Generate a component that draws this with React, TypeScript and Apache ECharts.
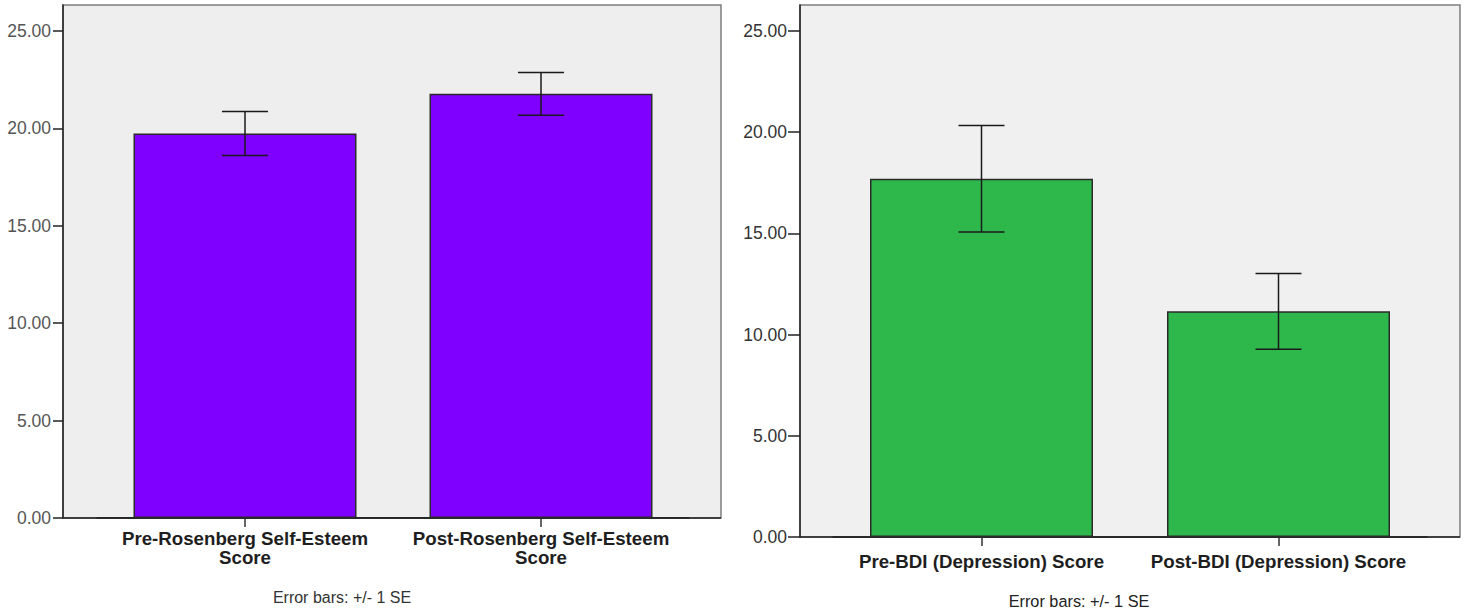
import React, { useEffect, useRef } from "react";
import * as echarts from "echarts";

const W = 1469;
const H = 613;

const leftCategories = ["Pre-Rosenberg Self-Esteem\nScore", "Post-Rosenberg Self-Esteem\nScore"];
const leftMeans = [19.74, 21.77];
const leftSE = [1.13, 1.1];

const rightCategories = ["Pre-BDI (Depression) Score", "Post-BDI (Depression) Score"];
const rightMeans = [17.7, 11.15];
const rightSE = [2.63, 1.87];

const yTicks = [0, 5, 10, 15, 20, 25];
const leftYMax = 26.33;
const rightYMax = 26.28;
const footnote = "Error bars: +/- 1 SE";

const FONT = "'Liberation Sans', Arial, sans-serif";

const errRender = (params: any, api: any) => {
  const x = api.value(0);
  const lo = api.coord([x, api.value(1)]);
  const hi = api.coord([x, api.value(2)]);
  const half = 23;
  const style = { stroke: "#1a1a1a", lineWidth: 1.5 };
  return {
    type: "group",
    children: [
      { type: "line", shape: { x1: hi[0], y1: hi[1], x2: lo[0], y2: lo[1] }, style },
      { type: "line", shape: { x1: hi[0] - half, y1: hi[1], x2: hi[0] + half, y2: hi[1] }, style },
      { type: "line", shape: { x1: lo[0] - half, y1: lo[1], x2: lo[0] + half, y2: lo[1] }, style },
    ],
  };
};

export default function App() {
  const ref = useRef<HTMLDivElement>(null);

  useEffect(() => {
    if (!ref.current) return;
    const chart = echarts.init(ref.current, undefined, { renderer: "svg" });

    const yAxisBase = (max: number, offset: number, color: string, margin: number, tickLen: number) => ({
      type: "value",
      min: 0,
      max,
      offset,
      splitLine: { show: false },
      axisLine: { show: true, lineStyle: { color: "#222", width: 1.5 } },
      axisTick: { show: true, length: tickLen, customValues: yTicks, lineStyle: { color: "#222", width: 1.5 } },
      axisLabel: {
        customValues: yTicks,
        formatter: (v: number) => v.toFixed(2),
        color,
        fontSize: 17.5,
        fontFamily: FONT,
        margin,
      },
    });

    const xAxisBase = (cats: string[], margin: number) => ({
      type: "category",
      data: cats,
      axisLine: { show: true, lineStyle: { color: "#222", width: 1.5 } },
      axisTick: { show: true, alignWithLabel: true, length: 9, lineStyle: { color: "#333", width: 1.5 } },
      axisLabel: {
        interval: 0,
        color: "#1e1e1e",
        fontSize: 18.7,
        fontWeight: "bold",
        lineHeight: 19,
        fontFamily: FONT,
        margin,
      },
    });

    const option: any = {
      animation: false,
      graphic: [
        {
          type: "rect",
          z: -10,
          shape: { x: 63, y: 5, width: 658, height: 513 },
          style: { fill: "#eeeeee", stroke: "#7d7d7d", lineWidth: 1.5 },
        },
        {
          type: "rect",
          z: -10,
          shape: { x: 800, y: 5, width: 660, height: 532 },
          style: { fill: "#f0f0f0", stroke: "#7d7d7d", lineWidth: 1.5 },
        },
        {
          type: "line",
          z: -9,
          shape: { x1: 63, y1: 518, x2: 721, y2: 518 },
          style: { stroke: "#222", lineWidth: 1.5 },
        },
        {
          type: "line",
          z: -9,
          shape: { x1: 800, y1: 537, x2: 1460, y2: 537 },
          style: { stroke: "#222", lineWidth: 1.5 },
        },
        {
          type: "text",
          x: 342,
          y: 597,
          style: { text: footnote, fill: "#333", font: `16px ${FONT}`, textAlign: "center", textVerticalAlign: "middle" },
        },
        {
          type: "text",
          x: 1079,
          y: 601,
          style: { text: footnote, fill: "#222", font: `16.3px ${FONT}`, textAlign: "center", textVerticalAlign: "middle" },
        },
      ],
      grid: [
        { left: 97, top: 5, width: 592, height: 513, show: false },
        { left: 833, top: 5, width: 594, height: 532, show: false },
      ],
      xAxis: [
        { ...xAxisBase(leftCategories, 11), gridIndex: 0 },
        { ...xAxisBase(rightCategories, 15), gridIndex: 1 },
      ],
      yAxis: [
        { ...yAxisBase(leftYMax, 34, "#555", 12, 10), gridIndex: 0 },
        { ...yAxisBase(rightYMax, 33, "#333", 13, 12), gridIndex: 1 },
      ],
      series: [
        {
          type: "bar",
          xAxisIndex: 0,
          yAxisIndex: 0,
          data: leftMeans,
          barWidth: 223,
          itemStyle: { color: "#8000ff", borderColor: "#2a2a2a", borderWidth: 1.5 },
        },
        {
          type: "custom",
          xAxisIndex: 0,
          yAxisIndex: 0,
          renderItem: errRender,
          encode: { x: 0, y: [1, 2] },
          data: leftMeans.map((m, i) => [i, m - leftSE[i], m + leftSE[i]]),
          z: 5,
        },
        {
          type: "bar",
          xAxisIndex: 1,
          yAxisIndex: 1,
          data: rightMeans,
          barWidth: 223,
          itemStyle: { color: "#2eb84b", borderColor: "#2a2a2a", borderWidth: 1.5 },
        },
        {
          type: "custom",
          xAxisIndex: 1,
          yAxisIndex: 1,
          renderItem: errRender,
          encode: { x: 0, y: [1, 2] },
          data: rightMeans.map((m, i) => [i, m - rightSE[i], m + rightSE[i]]),
          z: 5,
        },
      ],
    };

    chart.setOption(option);
    return () => chart.dispose();
  }, []);

  return (
    <div
      ref={ref}
      style={{ position: "absolute", left: 0, top: 0, width: W, height: H, background: "#ffffff" }}
    />
  );
}
